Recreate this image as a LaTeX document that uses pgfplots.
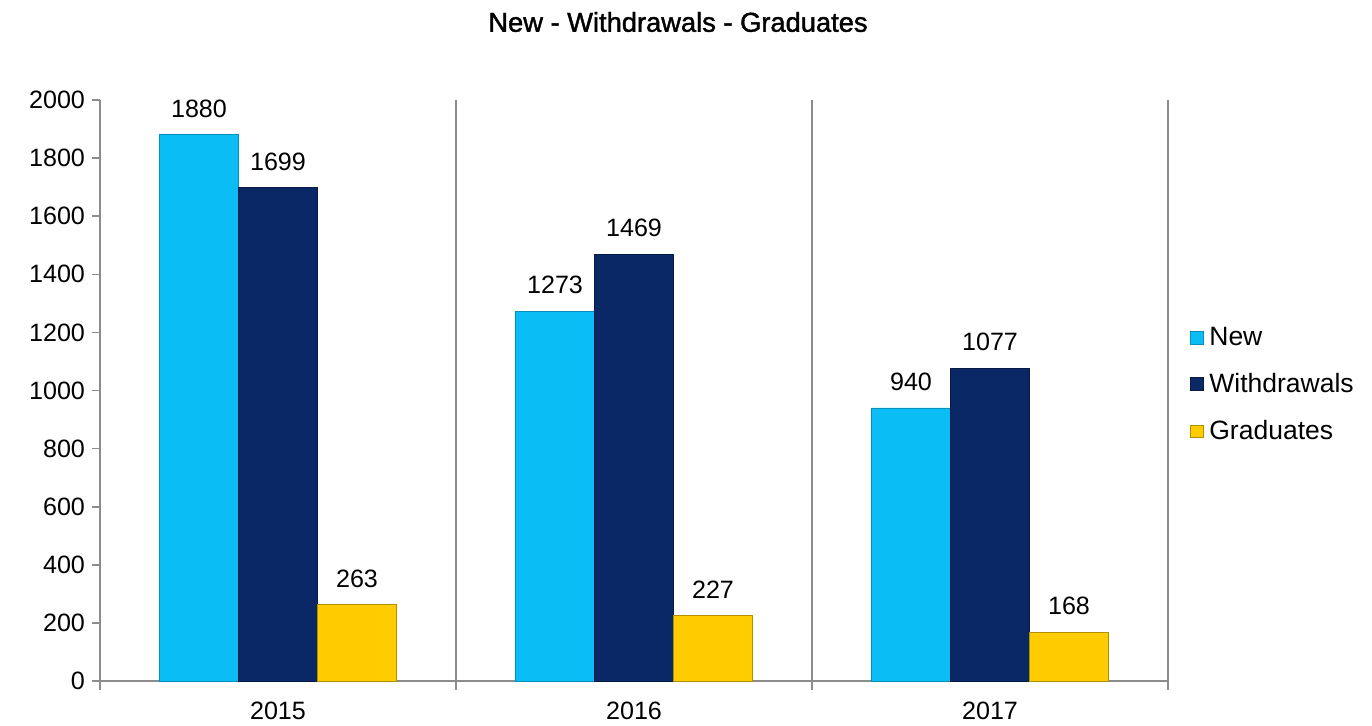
\documentclass[border=0pt]{standalone}
\usepackage{pgfplots}
\pgfplotsset{compat=1.18}
\usepackage{fontspec}
\setmainfont{Liberation Sans}
\newfontfamily\titlefont[FakeBold=1.5]{Liberation Sans}
\definecolor{cNew}{HTML}{0BBDF5}
\definecolor{cWd}{HTML}{0A2766}
\definecolor{cGr}{HTML}{FFCC00}
\definecolor{axgray}{HTML}{8C8C8C}
\begin{document}
\begin{tikzpicture}[x=1bp,y=1bp]
\useasboundingbox (0,0) rectangle (686,362.5);
\node[font=\titlefont\fontsize{13.7}{16.5}\selectfont] at (339,351.5) {New - Withdrawals - Graduates};
\begin{axis}[
  at={(50bp,22bp)}, anchor=south west,
  scale only axis, width=534bp, height=290.5bp,
  ymin=0, ymax=2000, ytick={0,200,...,2000},
  xmin=-0.5, xmax=2.5, xtick={0,1,2}, xticklabels={2015,2016,2017},
  major x tick style={draw=none},
  minor xtick={-0.5,0.5,1.5,2.5}, minor x grid style={axgray, line width=0.6pt}, xminorgrids,
  axis lines=left, axis line style={-, axgray, line width=0.8pt},
  tick align=outside, major tick length=4bp, minor tick length=4.5bp,
  tick style={axgray, line width=0.8pt},
  /pgf/number format/.cd, 1000 sep={}, assume math mode=true, /pgfplots/.cd,
  ticklabel style={font=\fontsize{12.6}{15}\selectfont, text=black},
  x tick label style={yshift=-3bp},
  ybar=0pt, bar width=39.5bp,
  enlarge x limits=false,
  nodes near coords,
  nodes near coords style={font=\fontsize{12.6}{15}\selectfont, text=black, yshift=5bp},
  legend style={at={(1.02,0.51)}, anchor=west, draw=none, fill=none,
    font=\fontsize{13.3}{16}\selectfont, row sep=8.5bp, inner xsep=0pt,
    /tikz/every odd column/.append style={column sep=1bp}},
  legend cell align=left,
  legend image code/.code={\fill[#1] (0bp,-3.2bp) rectangle (6.4bp,3.2bp);},
]
\addplot[fill=cNew, draw=cNew!75!black, line width=0.4pt] coordinates {(0,1880) (1,1273) (2,940)};
\addplot[fill=cWd, draw=cWd!70!black, line width=0.4pt] coordinates {(0,1699) (1,1469) (2,1077)};
\addplot[fill=cGr, draw=cGr!70!black, line width=0.4pt] coordinates {(0,263) (1,227) (2,168)};
\legend{New,Withdrawals,Graduates}
\end{axis}
\end{tikzpicture}
\end{document}
